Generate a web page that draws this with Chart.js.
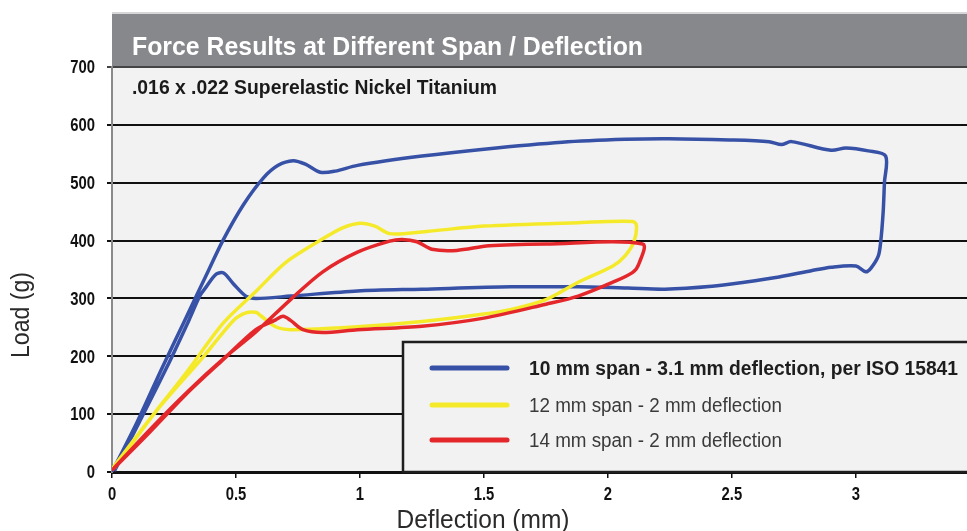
<!DOCTYPE html>
<html>
<head>
<meta charset="utf-8">
<script src="https://cdn.jsdelivr.net/npm/chart.js@4.4.1/dist/chart.umd.min.js"></script>
<style>
    html, body { margin: 0; padding: 0; background: #ffffff; }
    #forceChart { display: block; }
</style>
</head>
<body>
<canvas id="forceChart" width="967" height="531"></canvas>
<script>
// Load / deflection loops (mm, grams)
const span10Defl = [0, 0.1, 0.2, 0.3, 0.38, 0.447, 0.53, 0.61, 0.67, 0.73, 0.78, 0.84, 0.9, 0.99, 1.25, 1.5, 1.815, 2.07, 2.245, 2.49, 2.65, 2.70, 2.74, 2.90, 2.96, 3.05, 3.12,
    3.115, 3.11, 3.10, 3.09, 3.06, 3.04, 3.00, 2.90, 2.82, 2.69, 2.55, 2.42, 2.23, 2.08, 1.88, 1.61, 1.25, 0.99, 0.72, 0.58, 0.54, 0.49, 0.45, 0.42, 0.38, 0.355, 0.31, 0.22, 0.11, 0.01];
const span10Load = [0, 85, 178, 268, 340, 400, 462, 508, 530, 538, 532, 518, 520, 530, 546, 558, 570, 575, 576, 574, 571, 566, 571, 556, 560, 555, 546,
    500, 450, 398, 373, 352, 346, 356, 354, 348, 337, 328, 321, 316, 318, 320, 320, 316, 313, 304, 300, 304, 325, 344, 342, 320, 305, 262, 180, 86, 2];

const span12Defl = [0, 0.15, 0.3, 0.45, 0.58, 0.7, 0.85, 0.93, 1.0, 1.06, 1.12, 1.25, 1.5, 1.88, 2.1, 2.115,
    2.105, 2.07, 2.02, 1.88, 1.75, 1.61, 1.5, 1.25, 0.99, 0.72, 0.66, 0.6, 0.58, 0.54, 0.49, 0.37, 0.18, 0.01];
const span12Load = [5, 90, 172, 258, 312, 362, 403, 422, 430, 425, 412, 415, 425, 431, 433, 426,
    398, 374, 356, 328, 298, 281, 273, 260, 251, 246, 251, 270, 276, 275, 262, 200, 106, 7];

const span14Defl = [0, 0.15, 0.31, 0.45, 0.58, 0.72, 0.85, 0.99, 1.12, 1.17, 1.23, 1.29, 1.39, 1.52, 1.75, 2.14,
    2.125, 2.10, 2.02, 1.88, 1.75, 1.5, 1.25, 0.99, 0.85, 0.77, 0.72, 0.69, 0.66, 0.58, 0.45, 0.3, 0.15, 0];
const span14Load = [3, 72, 141, 196, 242, 298, 346, 380, 399, 402, 398, 385, 383, 391, 394, 394,
    360, 345, 328, 304, 290, 266, 252, 246, 241, 246, 262, 269, 263, 246, 195, 135, 68, 3];

const seriesLabels = [
    '10 mm span - 3.1 mm deflection, per ISO 15841',
    '12 mm span - 2 mm deflection',
    '14 mm span - 2 mm deflection'
];
const seriesColors = ['#3651a6', '#f5ea2a', '#e4272b'];

const chartTitle = 'Force Results at Different Span / Deflection';
const chartSubtitle = '.016 x .022 Superelastic Nickel Titanium';
const xTitle = 'Deflection (mm)';
const yTitle = 'Load (g)';
const xMax = 3.448;
const yMax = 700;

const wide = "'Liberation Sans', Arial, sans-serif";

function toPoints(xs, ys) {
    return xs.map((x, i) => ({ x: x, y: ys[i] }));
}

// text squeezed horizontally, the reference uses a condensed face
function squeezed(ctx, text, x, y, sx, align) {
    ctx.save();
    ctx.translate(x, y);
    ctx.scale(sx, 1);
    ctx.textAlign = align;
    ctx.fillText(text, 0, 0);
    ctx.restore();
}

// Backgrounds, header bar and text drawn around the plot
const framePlugin = {
    id: 'frame',
    beforeDraw(chart) {
        const ctx = chart.ctx;
        const area = chart.chartArea;
        const w = chart.width - area.left;
        ctx.save();
        ctx.fillStyle = '#f2f2f2';
        ctx.fillRect(area.left, 68, w, area.bottom - 68);
        // header bar
        ctx.fillStyle = '#d6d6d8';
        ctx.fillRect(area.left, 12, w, 3);
        ctx.fillStyle = '#87888c';
        ctx.fillRect(area.left, 14, w, 54);
        ctx.fillStyle = '#7b7c80';
        ctx.fillRect(area.left, 66, w, 2);

        ctx.textBaseline = 'middle';
        ctx.textAlign = 'left';
        ctx.fillStyle = '#ffffff';
        ctx.font = 'bold 25px ' + wide;
        ctx.fillText(chartTitle, 132, 48, 511);

        ctx.fillStyle = '#1a1a1a';
        ctx.font = 'bold 20px ' + wide;
        ctx.fillText(chartSubtitle, 132, 88, 365);

        // axis titles
        ctx.fillStyle = '#2a2a2a';
        ctx.font = '25px ' + wide;
        ctx.textAlign = 'center';
        ctx.fillText(xTitle, 483, 521, 173);
        ctx.translate(22, 315);
        ctx.rotate(-Math.PI / 2);
        ctx.fillText(yTitle, 0, 0, 86);
        ctx.restore();
    },
    afterDraw(chart) {
        const ctx = chart.ctx;
        const xs = chart.scales.x;
        const ys = chart.scales.y;
        const bottom = chart.chartArea.bottom;
        ctx.save();

        // tick labels, placed by the library's scales
        ctx.fillStyle = '#111111';
        ctx.font = 'bold 19px ' + wide;
        ctx.textBaseline = 'middle';
        ys.ticks.forEach(t => {
            squeezed(ctx, String(t.value), 95, ys.getPixelForValue(t.value) + 1, 0.78, 'right');
        });
        xs.ticks.forEach(t => {
            squeezed(ctx, String(t.value), xs.getPixelForValue(t.value), 495, 0.78, 'center');
        });

        // legend box
        ctx.fillStyle = '#f2f2f2';
        ctx.fillRect(402, 341, chart.width - 402 + 5, bottom - 341);
        ctx.strokeStyle = '#1e1e1e';
        ctx.lineWidth = 2.5;
        ctx.strokeRect(403, 342, chart.width - 403 + 5, bottom - 342);

        const rows = [368, 405, 440];
        ctx.lineCap = 'round';
        ctx.lineWidth = 5;
        ctx.textAlign = 'left';
        rows.forEach((y, i) => {
            ctx.strokeStyle = seriesColors[i];
            ctx.beginPath();
            ctx.moveTo(432, y);
            ctx.lineTo(507, y);
            ctx.stroke();
            ctx.fillStyle = i === 0 ? '#1e1e1e' : '#3a3a3a';
            ctx.font = (i === 0 ? 'bold 20px ' : '20px ') + wide;
            ctx.fillText(seriesLabels[i], 529, y + 1, i === 0 ? 429 : 253);
        });
        ctx.restore();
    }
};

const datasets = [
    { data: toPoints(span14Defl, span14Load), borderColor: seriesColors[2] },
    { data: toPoints(span12Defl, span12Load), borderColor: seriesColors[1] },
    { data: toPoints(span10Defl, span10Load), borderColor: seriesColors[0] }
].map(ds => Object.assign(ds, {
    showLine: true,
    pointRadius: 0,
    borderWidth: 3.5,
    tension: 0.3,
    fill: false
}));

new Chart(document.getElementById('forceChart').getContext('2d'), {
    type: 'scatter',
    data: { datasets: datasets },
    options: {
        responsive: false,
        animation: false,
        devicePixelRatio: 1,
        layout: { padding: { top: 67, right: 0, left: 0, bottom: 0 } },
        plugins: {
            legend: { display: false },
            title: { display: false },
            tooltip: { enabled: false }
        },
        scales: {
            x: {
                type: 'linear',
                min: 0,
                max: xMax,
                afterFit: s => { s.height = 59; },
                border: { color: '#111111', width: 3 },
                grid: { drawOnChartArea: false, drawTicks: true, tickLength: 6, color: '#111111', lineWidth: 1.5 },
                ticks: { stepSize: 0.5, includeBounds: false, display: false }
            },
            y: {
                min: 0,
                max: yMax,
                afterFit: s => { s.width = 112; },
                border: { color: '#8a8a8a', width: 2 },
                grid: {
                    drawTicks: true,
                    tickLength: 5,
                    lineWidth: 2,
                    color: c => (c.tick && c.tick.value === yMax) ? '#444444' : '#111111'
                },
                ticks: { stepSize: 100, display: false }
            }
        }
    },
    plugins: [framePlugin]
});
</script>
</body>
</html>
